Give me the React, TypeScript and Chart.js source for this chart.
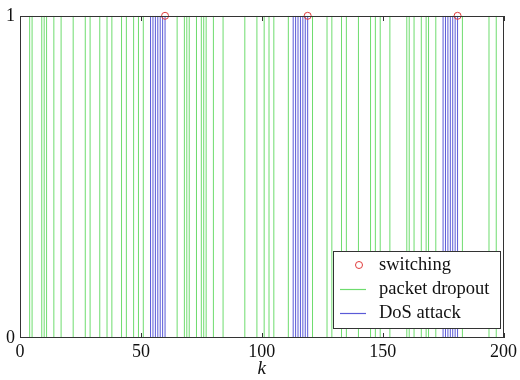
import React, { useEffect, useRef } from "react";
import { Chart, registerables } from "chart.js";

Chart.register(...registerables);

const dropoutSteps = [4, 5, 9, 10, 11, 14, 17, 22, 27, 29, 33, 36, 38, 42, 44, 47, 49, 51, 65, 68, 69, 70, 73, 75, 76, 77, 80, 84, 93, 98, 101, 103, 105, 111, 121, 127, 129, 133, 135, 140, 145, 147, 149, 153, 160, 161, 163, 166, 168, 169, 172, 183, 194, 197];
const dosSteps = [54, 55, 56, 57, 58, 59, 60, 113, 114, 115, 116, 117, 118, 119, 175, 176, 177, 178, 179, 180, 181];
const switchingSteps = [60, 119, 181];
const switchingValues = [1, 1, 1];
const xTickValues = [0, 50, 100, 150, 200];
const yTickValues = [0, 1];
const legendLabels = ["switching", "packet dropout", "DoS attack"];

const GREEN = "rgb(110,220,110)";
const BLUE = "rgb(90,90,215)";
const RED = "rgb(225,60,60)";
const FONT = "'Liberation Serif', 'DejaVu Serif', serif";

function toSegments(xs: number[]) {
  const out: { x: number; y: number | null }[] = [];
  for (const x of xs) {
    out.push({ x, y: 0 }, { x, y: 1 }, { x, y: null });
  }
  return out;
}

const framePlugin = {
  id: "frame",
  afterDatasetsDraw(chart: any) {
    const { ctx, chartArea } = chart;
    const left = Math.round(chartArea.left);
    const right = Math.round(chartArea.right);
    const top = Math.round(chartArea.top);
    const bottom = Math.round(chartArea.bottom);
    const xs = chart.scales.x;
    ctx.save();
    ctx.strokeStyle = "#333";
    ctx.lineWidth = 1;
    ctx.strokeRect(left + 0.5, top + 0.5, right - left - 1, bottom - top - 1);
    for (const v of xTickValues) {
      const px = Math.round(xs.getPixelForValue(v)) + 0.5;
      ctx.beginPath();
      ctx.moveTo(px, bottom);
      ctx.lineTo(px, bottom - 5);
      ctx.moveTo(px, top);
      ctx.lineTo(px, top + 5);
      ctx.stroke();
    }
    // legend
    const bx = right - 171;
    const by = bottom - 87;
    const bw = 167;
    const bh = 77;
    ctx.fillStyle = "#fff";
    ctx.fillRect(bx, by, bw, bh);
    ctx.strokeStyle = "#333";
    ctx.strokeRect(bx + 0.5, by + 0.5, bw, bh);
    ctx.font = "18.5px " + FONT;
    ctx.textBaseline = "middle";
    ctx.textAlign = "left";
    const rows = [by + 14, by + 38, by + 62];
    ctx.strokeStyle = RED;
    ctx.beginPath();
    ctx.arc(bx + 26, rows[0], 3.5, 0, Math.PI * 2);
    ctx.stroke();
    ctx.lineWidth = 1.2;
    ctx.strokeStyle = GREEN;
    ctx.beginPath();
    ctx.moveTo(bx + 7, rows[1] + 0.5);
    ctx.lineTo(bx + 33, rows[1] + 0.5);
    ctx.stroke();
    ctx.strokeStyle = BLUE;
    ctx.beginPath();
    ctx.moveTo(bx + 7, rows[2] + 0.5);
    ctx.lineTo(bx + 33, rows[2] + 0.5);
    ctx.stroke();
    ctx.fillStyle = "#111";
    legendLabels.forEach((t, i) => ctx.fillText(t, bx + 46, rows[i]));
    ctx.restore();
  },
};

export default function App() {
  const ref = useRef<HTMLCanvasElement | null>(null);
  useEffect(() => {
    document.body.style.margin = "0";
    const canvas = ref.current!;
    const chart = new Chart(canvas, {
      type: "line",
      data: {
        datasets: [
          {
            label: "switching",
            data: switchingSteps.map((x, i) => ({ x, y: switchingValues[i] })),
            showLine: false,
            pointStyle: "circle",
            pointRadius: 3.5,
            pointBorderColor: RED,
            pointBackgroundColor: "rgba(0,0,0,0)",
            pointBorderWidth: 1,
            clip: false as any,
            order: 0,
          },
          {
            label: "DoS attack",
            data: toSegments(dosSteps),
            borderColor: BLUE,
            borderWidth: 1,
            pointRadius: 0,
            spanGaps: false,
            order: 1,
          },
          {
            label: "packet dropout",
            data: toSegments(dropoutSteps),
            borderColor: GREEN,
            borderWidth: 1,
            pointRadius: 0,
            spanGaps: false,
            order: 2,
          },
        ],
      },
      options: {
        animation: false,
        responsive: false,
        layout: { padding: { top: 15, right: 16, left: 0, bottom: 0 } },
        plugins: { legend: { display: false }, tooltip: { enabled: false } },
        scales: {
          x: {
            type: "linear",
            min: 0,
            max: 200,
            grid: { display: false, drawTicks: false, tickLength: 0 },
            border: { display: false },
            afterBuildTicks: (s: any) => {
              s.ticks = xTickValues.map((v) => ({ value: v }));
            },
            afterFit: (s: any) => {
              s.height = 42;
            },
            ticks: {
              color: "#111",
              font: { family: FONT, size: 18 },
              padding: 3,
              maxRotation: 0,
            },
            title: {
              display: true,
              text: "k",
              color: "#111",
              font: { family: FONT, size: 19, style: "italic" },
              padding: { top: 0, bottom: 0 },
            },
          },
          y: {
            type: "linear",
            min: 0,
            max: 1,
            grid: { display: false, drawTicks: false, tickLength: 0 },
            border: { display: false },
            afterBuildTicks: (s: any) => {
              s.ticks = yTickValues.map((v) => ({ value: v }));
            },
            afterFit: (s: any) => {
              s.width = 20;
            },
            ticks: {
              color: "#111",
              font: { family: FONT, size: 18 },
              padding: 5,
            },
          },
        },
      },
      plugins: [framePlugin],
    });
    return () => chart.destroy();
  }, []);
  return (
    <div style={{ position: "fixed", left: 0, top: 0, width: 520, height: 380, background: "#fff" }}>
      <canvas ref={ref} width={520} height={380} />
    </div>
  );
}
